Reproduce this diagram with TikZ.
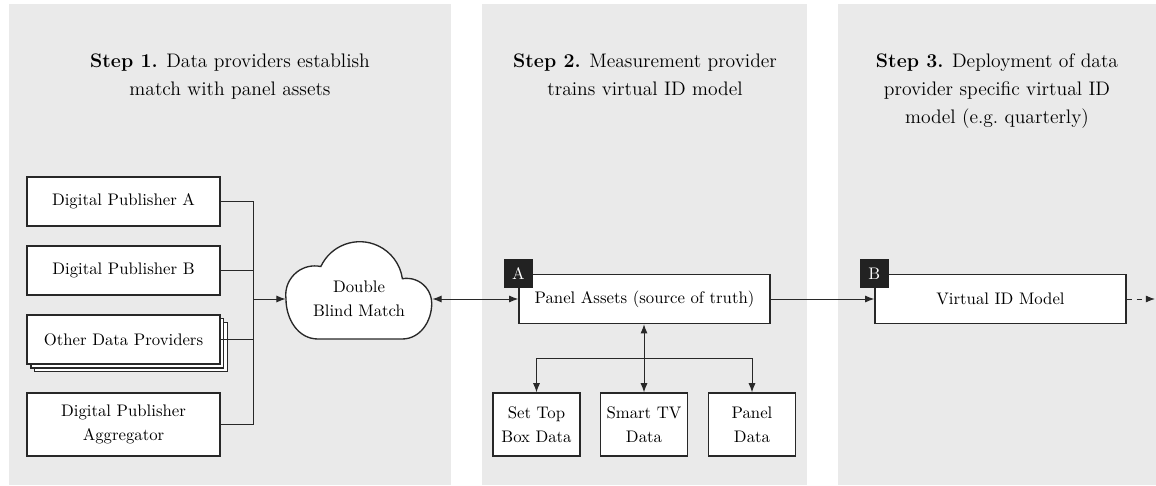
\documentclass[tikz,border=0pt]{standalone}
\usepackage{tikz}
\usetikzlibrary{shapes.geometric, arrows, arrows.meta, positioning, calc, shadows}

\definecolor{panelgray}{RGB}{234,234,234}
\definecolor{tagdark}{RGB}{34,34,34}
\definecolor{linegray}{RGB}{40,40,40}

\begin{document}
\begin{tikzpicture}[x=0.021cm, y=0.021cm]
        \tikzstyle{panel} = [fill=panelgray, draw=none]
        \tikzstyle{steptitle} = [anchor=north, align=center, font=\fontsize{11.7pt}{16.7pt}\selectfont]
        \tikzstyle{source} = [rectangle, minimum width=4.05cm, minimum height=1.03cm, text centered, align=center, draw=linegray, line width=0.8pt, fill=white, font=\fontsize{10pt}{14.3pt}\selectfont]
        \tikzstyle{datasrc} = [rectangle, minimum width=1.83cm, minimum height=1.32cm, inner sep=1pt, text centered, align=center, draw=linegray, line width=0.8pt, fill=white, font=\fontsize{10pt}{14.3pt}\selectfont]
        \tikzstyle{model} = [rectangle, minimum width=5.27cm, minimum height=1.03cm, text centered, align=center, draw=linegray, line width=0.8pt, fill=white, font=\fontsize{10pt}{14.3pt}\selectfont]
        \tikzstyle{tag} = [rectangle, minimum size=0.61cm, inner sep=0pt, fill=tagdark, text=white, font=\fontsize{10pt}{12pt}\selectfont]
        \tikzstyle{arrow} = [line width=0.6pt, draw=linegray, ->, >={Latex[length=5.5pt,width=4.2pt]}]
        \tikzstyle{link} = [line width=0.6pt, draw=linegray]

        \useasboundingbox (0,0) rectangle (1156,485);

        % background panels
        \fill [panel] (9,0) rectangle (451,481);
        \fill [panel] (482,0) rectangle (807,481);
        \fill [panel] (838,0) rectangle (1156,481);

        \node (title1) [steptitle] at (230,437) {\textbf{Step 1.} Data providers establish\\match with panel assets};
        \node (title2) [steptitle] at (645,437) {\textbf{Step 2.} Measurement provider\\trains virtual ID model};
        \node (title3) [steptitle] at (997,437) {\textbf{Step 3.} Deployment of data\\provider specific virtual ID\\model (e.g.\ quarterly)};

        % step 1
        \node (pubA) [source] at (123.5,283.5) {Digital Publisher A};
        \node (pubB) [source] at (123.5,214.5) {Digital Publisher B};
        \node (others) [source, double copy shadow={shadow xshift=0.08cm, shadow yshift=-0.08cm}] at (123.5,145.5) {Other Data Providers};
        \node (aggr) [source, minimum height=1.32cm] at (123.5,60.5) {Digital Publisher\\Aggregator};

        % cloud
        \fill [white, draw=linegray, line width=0.8pt] (286,186)
                arc[start angle=188, end angle=78, radius=0.61cm]
                arc[start angle=155, end angle=8, radius=0.903cm]
                arc[start angle=100, end angle=0, radius=0.525cm]
                to[out=-90,in=0] (402,146) -- (318,146)
                to[out=180,in=-90] (286,186) -- cycle;
        \node (match) [minimum width=3.066cm, minimum height=1.5cm, inner sep=0pt, align=center, font=\fontsize{10pt}{14.3pt}\selectfont] at (359,186) {Double\\Blind Match};

        \coordinate (bus) at (253,186);
        \draw [link] (pubA.east) -| (bus);
        \draw [link] (pubB.east) -| (bus);
        \draw [link] (others.east) -| (bus);
        \draw [link] (aggr.east) -| (bus);
        \draw [arrow] (bus) -- (match.west);

        % step 2
        \node (assets) [model] at (644.5,186) {Panel Assets (source of truth)};
        \node (tagA) [tag] at (assets.north west) {A};
        \node (settop) [datasrc] at (536.5,60.5) {Set Top\\Box Data};
        \node (smarttv) [datasrc] at (644,60.5) {Smart TV\\Data};
        \node (paneldata) [datasrc] at (752,60.5) {Panel\\Data};

        \draw [arrow, <->] (match.east) -- (assets.west);
        \draw [arrow, <->] (assets.south -| smarttv.north) -- (smarttv.north);
        \coordinate (split) at (644,127);
        \draw [arrow] (split) -| (settop.north);
        \draw [arrow] (split) -| (paneldata.north);

        % step 3
        \node (virtual) [model] at (1000.5,186) {Virtual ID Model};
        \node (tagB) [tag] at (virtual.north west) {B};
        \coordinate (beyond) at (1155,186);

        \draw [arrow] (assets.east) -- (virtual.west);
        \draw [arrow, dashed] (virtual.east) -- (beyond);
    \end{tikzpicture}
\end{document}
